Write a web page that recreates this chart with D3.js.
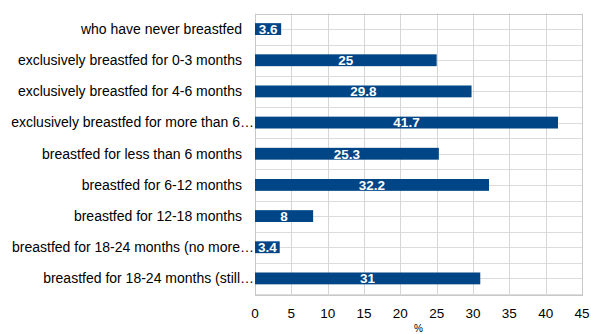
<!DOCTYPE html>
<html><head><meta charset="utf-8">
<script src="https://cdn.jsdelivr.net/npm/d3@7"></script>
<style>body{margin:0;background:#fff}svg{display:block}</style>
</head><body>
<script>
const categories = [
  "who have never breastfed",
  "exclusively breastfed for 0-3 months",
  "exclusively breastfed for 4-6 months",
  "exclusively breastfed for more than 6\u2026",
  "breastfed for less than 6 months",
  "breastfed for 6-12 months",
  "breastfed for 12-18 months",
  "breastfed for 18-24 months (no more\u2026",
  "breastfed for 18-24 months (still\u2026"
];
const values = [3.6, 25, 29.8, 41.7, 25.3, 32.2, 8, 3.4, 31];
const xTicks = [0,5,10,15,20,25,30,35,40,45];
const axisTitle = "%";

const W = 591, H = 334;
const m = {left:255, right:9, top:13.5, bottom:40};
const FONT = "Liberation Sans, Arial, sans-serif";
const svg = d3.select("body").append("svg").attr("width",W).attr("height",H);
const x = d3.scaleLinear().domain([0,45]).range([m.left, W-m.right]);
const y = d3.scaleBand().domain(categories).range([m.top, H-m.bottom]).paddingInner(0.62).paddingOuter(0.31);
const yb = d3.scaleBand().domain(categories).range([m.top, H-m.bottom]);

const g = svg.append("g");
const hLines = [];
categories.forEach(c => { hLines.push(yb(c)); hLines.push(yb(c)+yb.bandwidth()/2); });
hLines.push(H-m.bottom);
g.selectAll("line.h").data(hLines).join("line")
  .attr("x1",m.left).attr("x2",W-m.right)
  .attr("y1",d=>Math.round(d)+0.5).attr("y2",d=>Math.round(d)+0.5)
  .attr("stroke","#dcdcdc").attr("stroke-width",1);
g.selectAll("line.v").data(xTicks).join("line")
  .attr("x1",d=>Math.round(x(d))+0.5).attr("x2",d=>Math.round(x(d))+0.5)
  .attr("y1",m.top).attr("y2",H-m.bottom)
  .attr("stroke","#d6d6d6").attr("stroke-width",1);
g.append("rect").attr("x",m.left+0.5).attr("y",Math.round(m.top)+0.5)
  .attr("width",Math.round(x(45)-m.left)).attr("height",Math.round(H-m.bottom-m.top))
  .attr("fill","none").attr("stroke","#c8c8c8");

svg.selectAll("rect.bar").data(values).join("rect")
  .attr("x",x(0)).attr("y",(d,i)=>y(categories[i]))
  .attr("width",d=>x(d)-x(0)).attr("height",y.bandwidth())
  .attr("fill","#004586");
svg.selectAll("text.val").data(values).join("text")
  .attr("x",d=>(x(0)+x(d))/2).attr("y",(d,i)=>y(categories[i])+y.bandwidth()/2)
  .attr("dy","0.36em").attr("text-anchor","middle")
  .attr("font-family",FONT).attr("font-size",13.5)
  .attr("font-weight","bold").attr("fill","#fff").text(d=>d);

svg.selectAll("text.cat").data(categories).join("text")
  .attr("x",d=>d.endsWith("\u2026") ? 254 : 242).attr("y",d=>yb(d)+yb.bandwidth()/2)
  .attr("dy","0.35em").attr("text-anchor","end")
  .attr("font-family",FONT).attr("font-size",14)
  .attr("fill","#000").text(d=>d);

svg.selectAll("text.xt").data(xTicks).join("text")
  .attr("x",d=>x(d)).attr("y",H-m.bottom+19)
  .attr("dy","0.35em").attr("text-anchor","middle")
  .attr("font-family",FONT).attr("font-size",13.5)
  .attr("fill","#000").text(d=>d);

svg.append("text").attr("x",(x(0)+x(45))/2).attr("y",H-2)
  .attr("text-anchor","middle").attr("font-family",FONT)
  .attr("font-size",10).attr("fill","#000").text(axisTitle);
</script>
</body></html>
